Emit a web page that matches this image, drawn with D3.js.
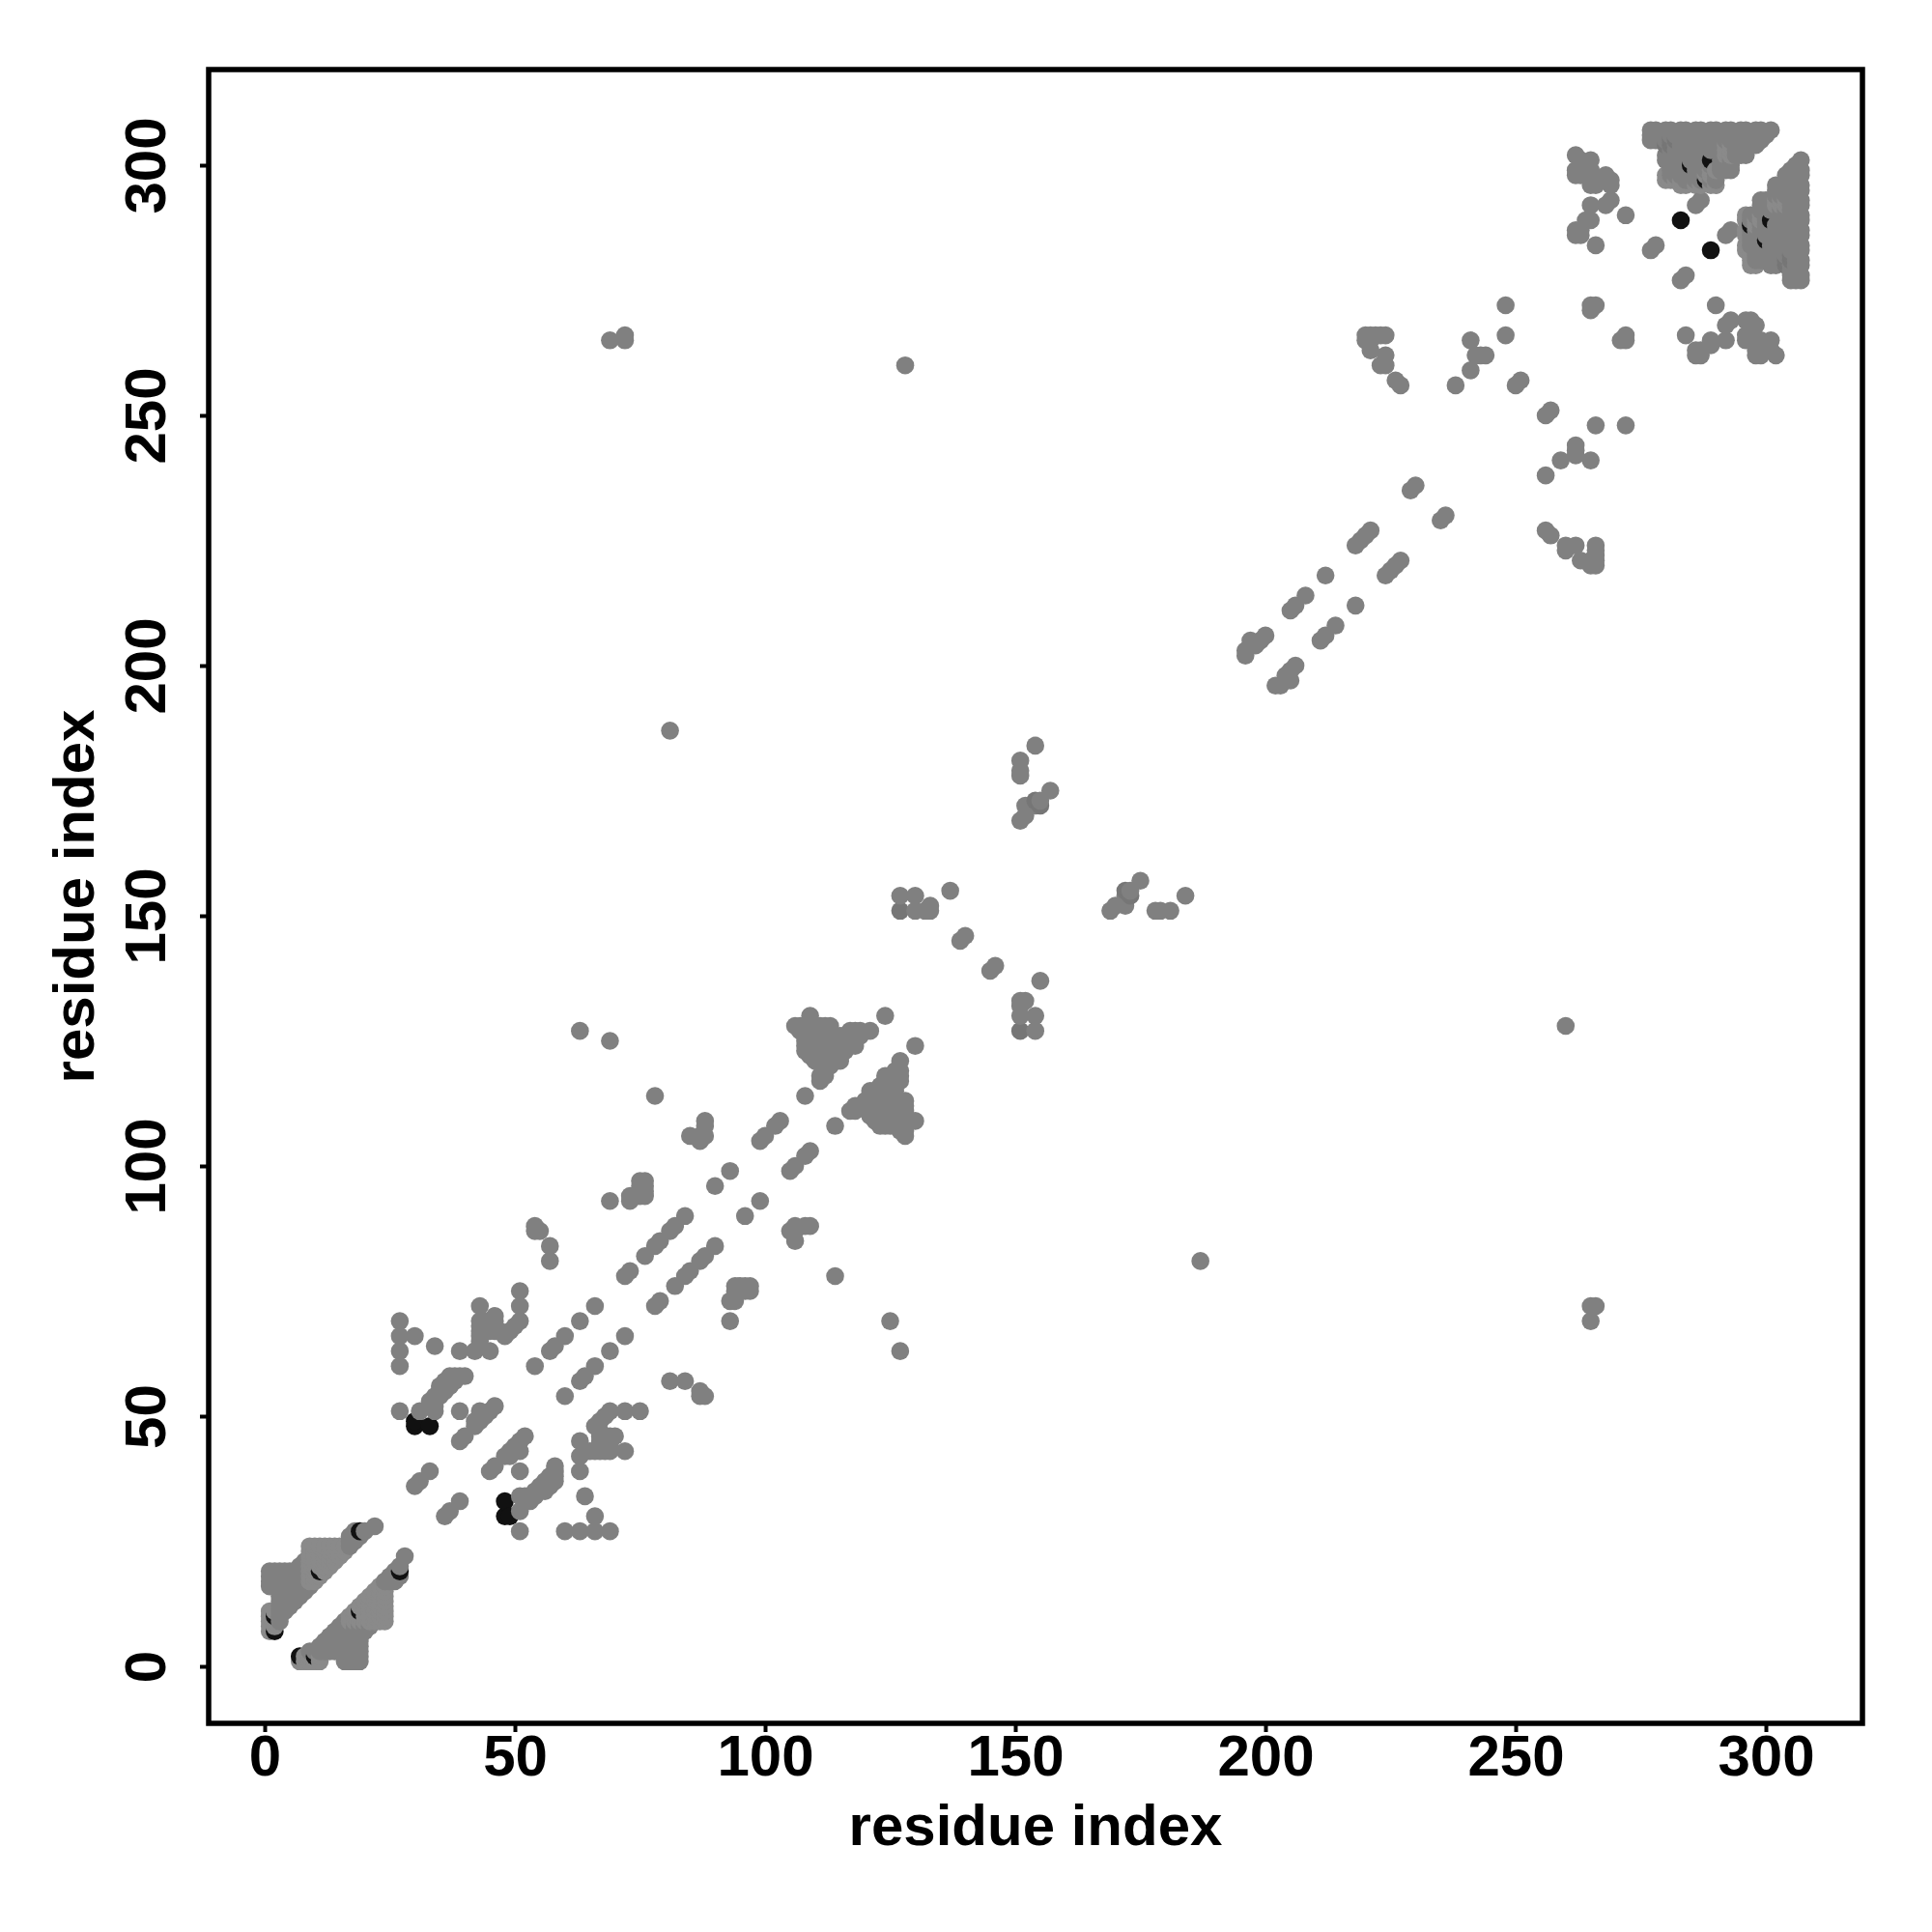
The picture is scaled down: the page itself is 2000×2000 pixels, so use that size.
<!DOCTYPE html>
<html><head><meta charset="utf-8">
<script src="https://cdnjs.cloudflare.com/ajax/libs/d3/7.8.5/d3.min.js"></script>
<style>html,body{margin:0;padding:0;background:#fff}svg{display:block}</style></head>
<body><svg id="c" width="2000" height="2000"></svg>
<script>
// each row: [a, b1, b2, ...] = contacts between residue a and residues b; the map is symmetric
const tickValues = [0,50,100,150,200,250,300];
const axisTitle = "residue index";
const contactsMid = [
 [27,51,60,63,66,69],[30,66],[34,64],[39,63],[42,63],[45,63],[43,64,65,66,67,68,69,72],
 [44,67,69],[45,67,68,69],[46,67,68,69,70],[47,67],[48,66],[49,67],[50,68],[51,69,72,75],
 [31,51],[33,52,53],[34,51,52,53,54],[35,54,55,56],[36,55,56,57],[37,56,57,58],[38,57,58],[39,51,58],[40,58],
 [39,45],[40,46],[42,48,49],[43,49,50,51],[44,50],[45,51],[46,52],
 [30,36],[31,37],[33,39],[54,60],[57,63],[58,64],[60,66],[63,69],[66,72],
 [57,81,84],[54,87,88],[55,87],[72,78],[73,79],[76,82],[78,84],[79,85],[81,87],[82,88],[84,90],
 [90,96],[93,99],[99,105],[100,106],[102,108],[103,109],[108,114],[111,117,118],[112,118],
 [69,93,125,265],[73,93,94],[74,94],[75,94,96,97],[76,94,95,96,97],[78,114],[63,127],[85,106],[87,105,106],[88,106,108,109],
 [72,265,266],[81,187],[128,260],
 [124,130],[114,108],[130,109],[129,109],[106,128],[128,107],
 [127,121,119,118,117],[126,119,118,117,116,115,114,113,112,111,110,109,108],
 [125,118,117,116,115,114,113,112,111,110,109,108],[124,118,117,116,115,114,113,112,111,110,109,108],
 [123,116,115,114,113,112,111,110,109,108],[122,115,114,113,112,111,110,109],[121,115,114,113,112,111,110],
 [120,113,112],[119,112],[118,111,112],[117,111],[128,113,112,111,110,109,108,106],[127,113,112,111,110,109,108,107],
 [127,154],[130,151,154],[132,151],[133,151,152],[137,155],[139,145],[140,146],
 [151,169,178,179,181],[152,170,172],[154,172,184],[155,173],[157,175],[172,154],[173,154],
 [178,151],[179,151],[181,151],
 [196,202,203],[197,204,205],[198,204],[199,205],[200,206],[205,211],[206,212],[208,214],[212,218],[218,224],[219,225],[220,226],[221,227],
 [229,235],[230,236],[220,265,266],[221,263,265,266],[222,266],[223,260,266],[224,260,262,266],[226,257],[227,256],
 [238,256],[241,259,265],[242,262],[243,262],[244,262],[248,266,272],[250,256],[251,257],[265,271,272],[266,272],
 [272,290],[266,284],[277,283],[278,284],[284,278],[286,292],[287,293],
 [262,286,287,298,299,302],[263,286,287,298,299,300,301],[264,289],[265,289,292,296,299,301],[266,296,297],[267,297],[268,292,297,298],[269,293,296,297],
 [3,9,10,11,12,13,14,15,16,17,18,19],[4,11,12,13,14,15,16,17,18,19],[5,12,13,14,15,16,17,18,19],[6,13,14,15,16,17,18,19],
 [7,14,15,16,17,18,19,20],[8,15,16,17,18,19,20,21],[9,16],[1,16,17,18,19],[2,16,17,18,19],
 [17,24,25,26],[18,25,26,27],[19,26],[20,27],[22,28],
 [307,277,278,280,281,283,284,286,287,289,290,292,293,295,296,298,299,301],
 [306,277,278,279,280,281,282,283,284,285,286,287,288,289,290,291,292,293,294,295,296,297,298,299,300],
 [305,277,278,279,280,283,284,285,286,287,288,289,290,291,292,293,294,295,296,297,298,299],
 [304,282,283,284,285,286,287,288,289,290,291,294,295,296,297,298],
 [303,281,282,283,284,285,286,287,288,289,290,291,294,295,296],
 [302,280,281,282,283,284,285,286,287,288,291,294,295,296],
 [301,280,281,282,283,284,285,286,287,288,291,292,293],
 [300,281,282,283,284,286,287,288,289,291,292,293],
 [299,281,282,283,284,285,286,287,288,291,292,293],
 [298,281,282,283,284,285,286,287,290],
 [297,284,285,286,287,289,290]
];
const contactsLight = [
 [1,7,8,9,10,11],[2,8,9,10,11],
 [9,17,18,19,20,21,22,23,24],[10,17,18,19,20,21,22,23,24],[11,18,20,21,22,23,24],[12,19,20,21,22,23,24],
 [13,20,21,22,23,24],[14,21,22,23,24],[15,22,23,24],[16,23,24],
 [296,283,284,286,287,289,290],[297,280,281,282,283],[298,280,288,289],[299,289,290],
 [302,292,293],[303,292,293],[304,292,293]
];
const contactsDark = [
 [127,151],[304,280,281],[305,281,282],[154,173],[172,155]
];
const contactsBlack = [[283,289],[285,300],[288,297],[289,301],[7,2],[10,2],[2,7],[2,10],[11,19],[19,27],[30,48,49],[33,48]];
const shadeMid = "#808080", shadeLight = "#8a8a8a", shadeDark = "#767676", shadeBlack = "#111111";

const svg = d3.select("#c");
const x = d3.scaleLinear().domain([0,300]).range([274,1828]);
const y = d3.scaleLinear().domain([0,300]).range([1725,171]);
const frame = {l:216,r:1928,t:72,b:1784};

const cells = new Map();
function addRows(rows, fill){
  rows.forEach(([a,...bs])=>bs.forEach(b=>{
    cells.set(a+","+b,{i:a,j:b,fill}); cells.set(b+","+a,{i:b,j:a,fill});
  }));
}
addRows(contactsMid, shadeMid); addRows(contactsLight, shadeLight); addRows(contactsDark, shadeDark); addRows(contactsBlack, shadeBlack);
const pts = Array.from(cells.values()).sort((p,q)=>d3.ascending(p.i,q.i)||d3.ascending(p.j,q.j));

svg.append("g").selectAll("circle").data(pts).join("circle")
  .attr("cx",d=>x(d.i)).attr("cy",d=>y(d.j)).attr("r",9.3).attr("fill",d=>d.fill);

svg.append("rect").attr("x",frame.l).attr("y",frame.t).attr("width",frame.r-frame.l).attr("height",frame.b-frame.t)
  .attr("fill","none").attr("stroke","#000").attr("stroke-width",5.5);

const font = "'Liberation Sans',Arial,sans-serif";
const ax = svg.append("g").attr("transform",`translate(0,${frame.b})`)
  .call(d3.axisBottom(x).tickValues(tickValues).tickSize(9).tickSizeOuter(0).tickFormat(d3.format("d")));
const ay = svg.append("g").attr("transform",`translate(${frame.l},0)`)
  .call(d3.axisLeft(y).tickValues(tickValues).tickSize(9).tickSizeOuter(0).tickFormat(d3.format("d")));
[ax,ay].forEach(g=>{
  g.select(".domain").remove();
  g.selectAll("line").attr("stroke","#000").attr("stroke-width",4);
  g.selectAll("text").attr("fill","#000").attr("font-family",font).attr("font-weight","bold").attr("font-size",60);
});
ax.selectAll("text").attr("y",54).attr("dy",0).attr("text-anchor","middle");
ay.selectAll("text").attr("x",0).attr("y",0).attr("dy",0).attr("text-anchor","middle").attr("transform","translate(-45,0) rotate(-90)");

svg.append("text").attr("x",1072).attr("y",1910).attr("text-anchor","middle")
  .attr("font-family",font).attr("font-weight","bold").attr("font-size",60).text(axisTitle);
svg.append("text").attr("transform","translate(97,928) rotate(-90)").attr("text-anchor","middle")
  .attr("font-family",font).attr("font-weight","bold").attr("font-size",60).text(axisTitle);
</script></body></html>
